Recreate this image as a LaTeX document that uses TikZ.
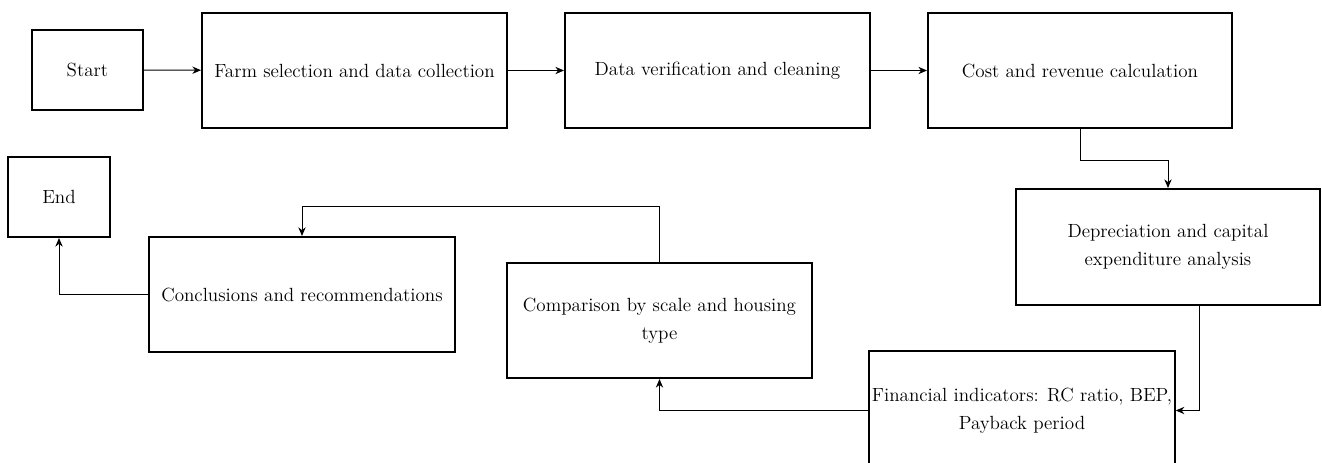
\documentclass[tikz,border=0pt]{standalone}
\usetikzlibrary{arrows.meta}

\begin{document}
\begin{tikzpicture}[x=0.75pt, y=-0.75pt, >={Stealth[length=6.5pt,width=5.5pt]},
    font=\fontsize{14.3}{21}\selectfont]
  \tikzset{
    stage/.style={draw, line width=1.5pt, align=center, inner sep=2pt},
    link/.style={->, line width=0.7pt}
  }
  \clip (0,0) rectangle (1322,463);
  % top row
  \node[stage, minimum width=111*0.75pt, minimum height=80*0.75pt] (start) at (87.5,70) {Start};
  \node[stage, minimum width=305*0.75pt, minimum height=115*0.75pt] (farm) at (354.5,70.5) {Farm selection and data collection};
  \node[stage, minimum width=305*0.75pt, minimum height=115*0.75pt] (verify) at (717.5,70.5) {Data verification and cleaning};
  \node[stage, minimum width=304*0.75pt, minimum height=115*0.75pt] (cost) at (1080,70.5) {Cost and revenue calculation};
  % right side
  \node[stage, minimum width=304*0.75pt, minimum height=116*0.75pt] (depr) at (1168,247) {Depreciation and capital\\expenditure analysis};
  \node[stage, minimum width=304*0.75pt, minimum height=119*0.75pt] (fin) at (1022,410.5) {Financial indicators: RC ratio, BEP,\\Payback period};
  % bottom row
  \node[stage, minimum width=305*0.75pt, minimum height=115*0.75pt] (comp) at (659.5,320.5) {Comparison by scale and housing\\type};
  \node[stage, minimum width=306*0.75pt, minimum height=115*0.75pt] (concl) at (302,294.5) {Conclusions and recommendations};
  \node[stage, minimum width=102*0.75pt, minimum height=80*0.75pt] (end) at (59,197) {End};

  \draw[link] (start) -- (farm);
  \draw[link] (farm) -- (verify);
  \draw[link] (verify) -- (cost);
  \draw[link] (cost.south) -- ++(0,31) -| (depr.north);
  \draw[link] ([xshift=31*0.75pt]depr.south) |- (fin.east);
  \draw[link] (fin.west) -| (comp.south);
  \draw[link] (comp.north) -- ++(0,-56) -| (concl.north);
  \draw[link] (concl.west) -| (end.south);
\end{tikzpicture}
\end{document}
